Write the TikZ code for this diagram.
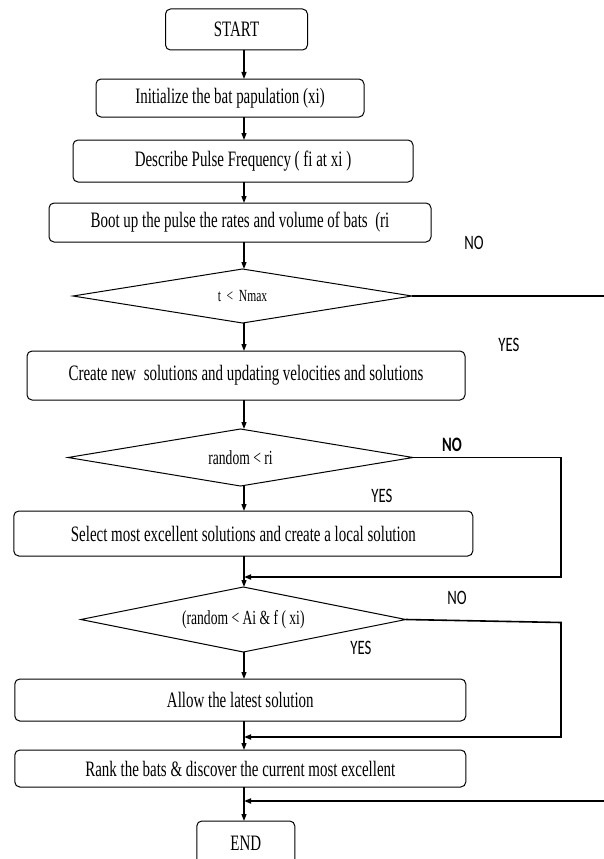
\documentclass[tikz,border=0pt]{standalone}
\usepackage{fontspec}
\usetikzlibrary{positioning}
\usetikzlibrary{shapes.geometric}
\usetikzlibrary{arrows.meta}
\newfontfamily\boxfont[FakeStretch=0.68]{Liberation Serif}
\newfontfamily\tagfont[FakeStretch=0.72]{Carlito}
\tikzset{
  proc/.style={draw, rounded corners=5pt, line width=1pt, inner sep=0pt, outer sep=0pt,
    font=\boxfont\fontsize{22}{26}\selectfont},
  dec/.style={draw, diamond, line width=1pt, inner sep=0pt, outer sep=0pt,
    font=\boxfont\fontsize{20}{24}\selectfont},
  lbl/.style={inner sep=0pt, font=\tagfont\fontsize{20.5}{24}\selectfont},
  arr/.style={line width=1.2pt, -{Triangle[length=7pt,width=5pt]}},
  back/.style={line width=1.6pt}
}

\begin{document}
\begin{tikzpicture}[x=1pt,y=1pt]
\useasboundingbox (0,0) rectangle (604,-859);
% Define nodes
% Main column
\node[proc, minimum width=142pt, minimum height=41pt] (start) at (236.5,-29.5) {START};
\node[proc, minimum width=268pt, minimum height=38pt, below=29pt of start, xshift=-6.5pt] (init) {Initialize the bat papulation (xi)};
\node[proc, minimum width=340pt, minimum height=42pt, below=23pt of init, xshift=13pt] (desc) {Describe Pulse Frequency ( fi at xi )};
\node[proc, minimum width=382pt, minimum height=39pt, below=21pt of desc, xshift=-3pt] (boot) {Boot up the pulse the rates and volume of bats~ (ri};
\node[dec, minimum width=339pt, minimum height=54pt, aspect=6.3, below=27pt of boot, xshift=2.5pt, font=\boxfont\fontsize{17}{20}\selectfont] (iter) {t \,<\, Nmax};
\node[proc, minimum width=438pt, minimum height=49pt, below=28pt of iter, xshift=3.5pt] (create) {Create new~ solutions and updating velocities and solutions};
\node[dec, minimum width=345pt, minimum height=57pt, aspect=6, below=29pt of create, xshift=-5.5pt] (pulse) {random < ri};
\node[proc, minimum width=459pt, minimum height=45pt, below=25pt of pulse, xshift=2.8pt] (select) {Select most excellent solutions and create a local solution};
\node[dec, minimum width=325pt, minimum height=65pt, aspect=5, below=31pt of select] (loud) {(random < Ai \& f ( xi)};
\node[proc, minimum width=451pt, minimum height=42pt, below=27pt of loud, xshift=-3pt] (allow) {Allow the latest solution};
\node[proc, minimum width=451pt, minimum height=37pt, below=29pt of allow] (rank) {Rank the bats \& discover the current most excellent};
\node[proc, minimum width=98pt, minimum height=45pt, below=34pt of rank, xshift=5.5pt] (end) {END};

% Branch labels
\node[lbl] (no1) at (474,-243) {NO};
\node[lbl] (yes1) at (509,-345) {YES};
\node[lbl, font=\tagfont\bfseries\fontsize{20.5}{24}\selectfont] (no2) at (452,-444.5) {NO};
\node[lbl] (yes2) at (382,-496) {YES};
\node[lbl] (no3) at (457,-598) {NO};
\node[lbl] (yes3) at (361,-648) {YES};

% Helper points
\coordinate (ax) at (244,0);
\coordinate (rgt) at (561,0);
\coordinate (rim) at (604,0);
\path (select.south -| ax) ++(0,-21) coordinate (j1);
\path (allow.south -| ax) ++(0,-16) coordinate (j2);
\path (rank.south -| ax) ++(0,-14) coordinate (j3);

% Edges
\foreach \a/\b in {start/init, init/desc, desc/boot, boot/iter, iter/create,
  create/pulse, pulse/select, select/loud, loud/allow, allow/rank, rank/end}
  \draw[arr] (\a.south -| ax) -- (\b.north -| ax);

% NO branches
\draw[back] (iter.east) -- (iter.east -| rim);
\draw[arr, back] (rim |- j3) -- (j3);
\draw[arr, back] (pulse.east) -- (pulse.east -| rgt) -- (rgt |- j1) -- (j1);
\draw[arr, back] (loud.east) -- ([yshift=-3pt]loud.east -| rgt) -- (rgt |- j2) -- (j2);
\end{tikzpicture}
\end{document}
